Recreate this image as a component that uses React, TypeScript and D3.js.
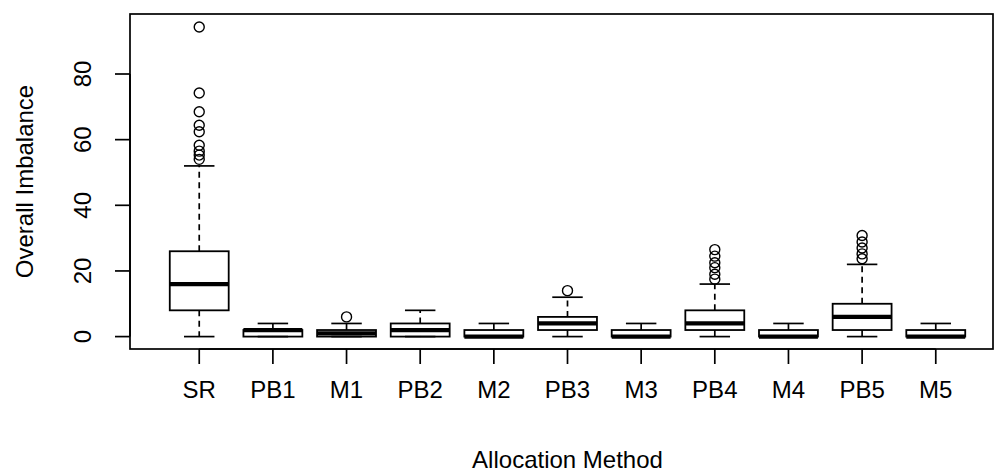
import React from "react";
import * as d3 from "d3";

const categories = ["SR", "PB1", "M1", "PB2", "M2", "PB3", "M3", "PB4", "M4", "PB5", "M5"];
const lowerWhisker = [0, 0, 0, 0, 0, 0, 0, 0, 0, 0, 0];
const q1 = [8, 0, 0, 0, 0, 2, 0, 2, 0, 2, 0];
const median = [16, 2, 1, 2, 0, 4, 0, 4, 0, 6, 0];
const q3 = [26, 2, 2, 4, 2, 6, 2, 8, 2, 10, 2];
const upperWhisker = [52, 4, 4, 8, 4, 12, 4, 16, 4, 22, 4];
const outliers: number[][] = [
  [54, 55.3, 56.5, 58.3, 62.4, 64.4, 68.5, 74.2, 94.3],
  [],
  [6],
  [],
  [],
  [14],
  [],
  [17.5, 19, 21, 22.5, 24.5, 26.5],
  [],
  [23.7, 25.2, 27, 28.8, 30.8],
  [],
];
const yTicks = [0, 20, 40, 60, 80];
const yTitle = "Overall Imbalance";
const xTitle = "Allocation Method";

const W = 995;
const H = 473;
const LEFT = 130;
const TOP = 14;
const BOTTOM = 349;
const RIGHT = 993;
const FONT = "'Liberation Sans', Arial, sans-serif";
const FS = 24;

export default function App() {
  const x = d3.scaleLinear().domain([0.06, 11.94]).range([130, 1005]);
  const y = d3.scaleLinear().domain([-3.78, 98.28]).range([BOTTOM, TOP]);
  const step = x(2) - x(1);
  const bw = 0.8 * step;
  const cap = bw / 2;
  const stroke = "#000";

  return (
    <svg
      width={W}
      height={H}
      viewBox={`0 0 ${W} ${H}`}
      style={{ position: "absolute", left: 0, top: 0, background: "#fff" }}
    >
      <rect x={0} y={0} width={W} height={H} fill="#fff" />
      {categories.map((c, i) => {
        const cx = x(i + 1);
        return (
          <g key={c}>
            <line
              x1={cx}
              x2={cx}
              y1={y(q3[i])}
              y2={y(upperWhisker[i])}
              stroke={stroke}
              strokeWidth={1.7}
              strokeDasharray="6,4.5"
            />
            <line
              x1={cx}
              x2={cx}
              y1={y(q1[i])}
              y2={y(lowerWhisker[i])}
              stroke={stroke}
              strokeWidth={1.7}
              strokeDasharray="6,4.5"
            />
            <line
              x1={cx - cap / 2 - 0.5}
              x2={cx + cap / 2 + 0.5}
              y1={y(upperWhisker[i])}
              y2={y(upperWhisker[i])}
              stroke={stroke}
              strokeWidth={1.7}
            />
            <line
              x1={cx - cap / 2 - 0.5}
              x2={cx + cap / 2 + 0.5}
              y1={y(lowerWhisker[i])}
              y2={y(lowerWhisker[i])}
              stroke={stroke}
              strokeWidth={1.7}
            />
            <rect
              x={cx - bw / 2}
              y={y(q3[i])}
              width={bw}
              height={y(q1[i]) - y(q3[i])}
              fill="none"
              stroke={stroke}
              strokeWidth={1.8}
            />
            <line
              x1={cx - bw / 2}
              x2={cx + bw / 2}
              y1={y(median[i])}
              y2={y(median[i])}
              stroke={stroke}
              strokeWidth={4.2}
            />
            {outliers[i].map((v, j) => (
              <circle
                key={j}
                cx={cx}
                cy={y(v)}
                r={5}
                fill="none"
                stroke={stroke}
                strokeWidth={1.4}
              />
            ))}
          </g>
        );
      })}
      <rect
        x={LEFT}
        y={TOP}
        width={RIGHT - LEFT}
        height={BOTTOM - TOP}
        fill="none"
        stroke={stroke}
        strokeWidth={1.7}
      />
      <line x1={LEFT} x2={LEFT} y1={y(0)} y2={y(80)} stroke={stroke} strokeWidth={1.7} />
      {yTicks.map((t) => (
        <g key={t}>
          <line x1={LEFT - 15} x2={LEFT} y1={y(t)} y2={y(t)} stroke={stroke} strokeWidth={1.7} />
          <text
            transform={`translate(91,${y(t)}) rotate(-90)`}
            textAnchor="middle"
            fontFamily={FONT}
            fontSize={FS}
            fill="#000"
          >
            {t}
          </text>
        </g>
      ))}
      <line x1={x(1)} x2={x(11)} y1={BOTTOM} y2={BOTTOM} stroke={stroke} strokeWidth={1.7} />
      {categories.map((c, i) => (
        <g key={c}>
          <line x1={x(i + 1)} x2={x(i + 1)} y1={BOTTOM} y2={BOTTOM + 15} stroke={stroke} strokeWidth={1.7} />
          <text
            x={x(i + 1)}
            y={398}
            textAnchor="middle"
            fontFamily={FONT}
            fontSize={FS}
            fill="#000"
          >
            {c}
          </text>
        </g>
      ))}
      <text
        x={(x(0.06) + x(11.94)) / 2}
        y={468}
        textAnchor="middle"
        fontFamily={FONT}
        fontSize={FS}
        fill="#000"
      >
        {xTitle}
      </text>
      <text
        transform={`translate(33,${(TOP + BOTTOM) / 2}) rotate(-90)`}
        textAnchor="middle"
        fontFamily={FONT}
        fontSize={FS}
        fill="#000"
      >
        {yTitle}
      </text>
    </svg>
  );
}
